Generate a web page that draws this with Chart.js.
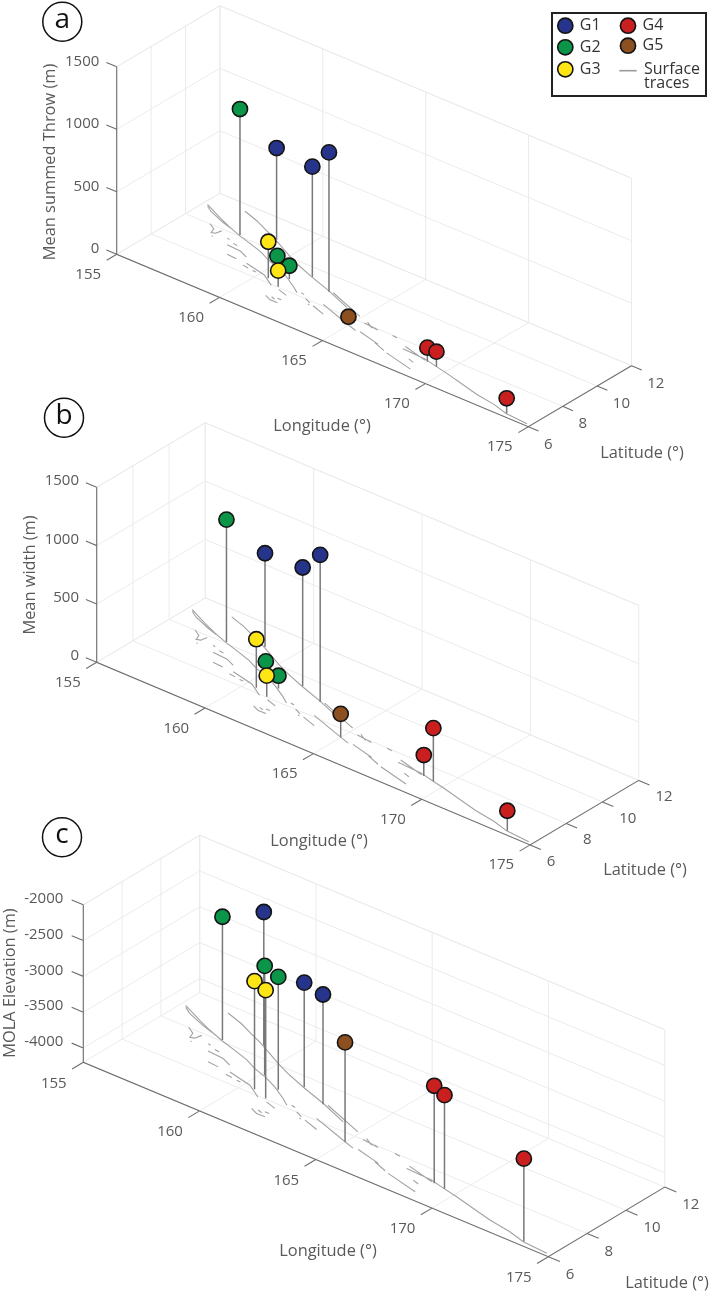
<!DOCTYPE html>
<html>
<head>
<meta charset="utf-8">
<title>Fault groups</title>
<script src="https://cdn.jsdelivr.net/npm/chart.js@4/dist/chart.umd.min.js"></script>
<style>
  html, body { margin: 0; padding: 0; background: #fff; }
  canvas { position: absolute; left: 0; }
</style>
</head>
<body>
<canvas id="panelA"></canvas>
<canvas id="panelB"></canvas>
<canvas id="panelC"></canvas>

<script>
// axis ticks
var lonTicks = [155, 160, 165, 170, 175];
var latTicks = [6, 8, 10, 12];
var throwTicks = [0, 500, 1000, 1500];
var widthTicks = [0, 500, 1000, 1500];
var elevationTicks = [-4000, -3500, -3000, -2500, -2000];

// fault groups
var groupNames = ['G1', 'G2', 'G3', 'G4', 'G5'];
var groupColors = ['#27348b', '#0a9548', '#fde516', '#c9201f', '#8b4f20'];

// one entry per fault
var faultGroup = ['G1', 'G1', 'G1', 'G2', 'G2', 'G2', 'G5', 'G4', 'G4', 'G4', 'G3', 'G3'];
var faultLon = [158.85, 161.64, 162.84, 157.58, 160.14, 161.10, 164.99, 169.00, 169.50, 173.74, 160.47, 161.15];
var faultLat = [10.69, 9.43, 8.96, 10.08, 9.19, 8.74, 7.52, 7.31, 7.24, 6.25, 8.27, 8.03];
var throwValues = [734, 880, 1115, 1008, 82, 106, 66, 112, 120, 120, 293, 128];
var widthValues = [804, 1016, 1262, 1049, 116, 110, 200, 180, 456, 171, 417, 180];
var elevationValues = [-2338, -2741, -2668, -2478, -2673, -2623, -2812, -2840, -2891, -3042, -2692, -2686];

// surface traces, each one a list of [lon, lat]
var surfaceTraces = [
  [[155.18,11.06],[156.17,10.60],[156.85,10.31],[157.62,10.03],[158.33,9.82],[159.02,9.60],[159.61,9.32],[160.27,9.10],[160.89,8.81],[161.59,8.40],[161.97,8.14]],
  [[155.27,10.96],[155.62,10.74],[156.46,10.41],[156.98,10.25]],
  [[156.58,11.57],[157.37,11.31],[157.93,11.06],[158.61,10.77],[159.35,10.40],[159.99,10.07],[160.66,9.77],[161.61,9.41],[162.82,9.00],[164.10,8.49]],
  [[163.01,9.01],[164.90,8.29]],
  [[163.28,8.10],[164.99,7.52],[165.46,7.37]],
  [[156.19,10.01],[156.54,9.80],[156.64,9.53],[156.80,9.59],[156.86,9.88]],
  [[156.81,9.36],[156.87,9.33]],
  [[157.37,9.60],[157.50,9.56]],
  [[157.79,9.44],[158.00,9.41]],
  [[157.68,9.22],[158.38,9.16],[158.83,8.96]],
  [[158.14,8.67],[158.61,8.63]],
  [[159.12,8.62],[160.19,8.37],[160.89,7.94]],
  [[159.11,8.42],[159.40,8.38]],
  [[159.64,8.34],[159.81,8.34]],
  [[161.21,7.23],[161.55,7.08],[161.90,7.09]],
  [[161.45,7.29],[161.65,7.22]],
  [[161.69,7.34],[161.87,7.35]],
  [[161.31,7.88],[161.80,7.72]],
  [[162.09,8.24],[162.27,8.20]],
  [[162.50,8.01],[162.83,7.86]],
  [[162.82,7.76],[162.91,7.73]],
  [[163.06,7.77],[163.75,7.54]],
  [[165.65,7.41],[166.75,7.13]],
  [[165.35,8.02],[166.07,7.93]],
  [[165.40,8.14],[165.81,7.91]],
  [[165.89,7.98],[166.02,7.94]],
  [[166.59,7.14],[167.23,6.90]],
  [[167.42,6.83],[168.88,6.47]],
  [[166.75,7.98],[166.99,7.95]],
  [[168.34,7.02],[168.63,6.93]],
  [[167.68,7.47],[168.80,7.41],[169.34,7.28],[170.14,7.10],[171.06,6.86],[171.97,6.62],[172.97,6.45],[173.73,6.23],[174.82,6.14]],
  [[167.65,7.65],[168.88,7.33]]
];

var pageWidth = 709;
var textColor = '#58595b';
var fontName = '"Open Sans", sans-serif';

// how each 3d box sits on the page
var panels = [
  {
    canvas: 'panelA', top: 0, height: 470, letter: 'a', letterPos: [62.3, 21.7],
    origin: [116.7, 254.3], lonStep: [20.58, 8.62], latStep: [17.2, -10.17], zStep: 0.125,
    zMin: 0, zMax: 1500, zTicks: throwTicks, values: throwValues,
    zTitle: 'Mean summed Throw (m)', zTitlePos: [50, 162],
    lonTitlePos: [322, 426], latTitlePos: [642, 453],
    zLabelShift: [-17.4, -5.5], lonLabelShift: [-28.5, 20.3], latLabelShift: [15.7, 17.7],
    legend: true
  },
  {
    canvas: 'panelB', top: 390, height: 490, letter: 'b', letterPos: [64, 417.7],
    origin: [96.7, 662.3], lonStep: [21.67, 9.13], latStep: [18.1, -10.75], zStep: 0.11667,
    zMin: 0, zMax: 1500, zTicks: widthTicks, values: widthValues,
    zTitle: 'Mean width (m)', zTitlePos: [30, 575],
    lonTitlePos: [319, 841], latTitlePos: [645, 870.7],
    zLabelShift: [-17.7, -6.3], lonLabelShift: [-28.8, 20.3], latLabelShift: [16.7, 16.7]
  },
  {
    canvas: 'panelC', top: 810, height: 484, letter: 'c', letterPos: [62, 837.3],
    origin: [83.3, 1062.3], lonStep: [23.25, 9.72], latStep: [19.4, -11.6], zStep: 0.0716,
    zMin: -4200, zMax: -2000, zTicks: elevationTicks, values: elevationValues,
    zTitle: 'MOLA Elevation (m)', zTitlePos: [10, 983],
    lonTitlePos: [328, 1251], latTitlePos: [667, 1283],
    zLabelShift: [-20, -6], lonLabelShift: [-29.5, 21], latLabelShift: [17.5, 17.8]
  }
];

function projector(p) {
  return function (lon, lat, z) {
    var a = lon - lonTicks[0];
    var b = lat - latTicks[0];
    return {
      x: p.origin[0] + a * p.lonStep[0] + b * p.latStep[0],
      y: p.origin[1] + a * p.lonStep[1] + b * p.latStep[1] - (z - p.zMin) * p.zStep
    };
  };
}

// list of polylines -> one point list, NaN breaks the line
function joinLines(lines) {
  var out = [];
  lines.forEach(function (line) {
    line.forEach(function (pt) { out.push(pt); });
    out.push({ x: NaN, y: NaN });
  });
  return out;
}

function lineSet(lines, color, width, order) {
  return {
    data: joinLines(lines),
    showLine: true,
    pointRadius: 0,
    borderColor: color,
    borderWidth: width,
    order: order
  };
}

function buildDatasets(p) {
  var at = projector(p);
  var lonEnd = lonTicks[lonTicks.length - 1];
  var latEnd = latTicks[latTicks.length - 1];
  var grid = [], axes = [], stems = [], traces = [];

  lonTicks.forEach(function (lon) {
    grid.push([at(lon, latTicks[0], p.zMin), at(lon, latEnd, p.zMin), at(lon, latEnd, p.zMax)]);
    axes.push([at(lon, latTicks[0], p.zMin), at(lon, latTicks[0] - 0.58, p.zMin)]);
  });
  latTicks.forEach(function (lat) {
    grid.push([at(lonEnd, lat, p.zMin), at(lonTicks[0], lat, p.zMin), at(lonTicks[0], lat, p.zMax)]);
    axes.push([at(lonEnd, lat, p.zMin), at(lonEnd + 0.5, lat, p.zMin)]);
  });
  p.zTicks.concat([p.zMax]).forEach(function (z) {
    grid.push([at(lonTicks[0], latTicks[0], z), at(lonTicks[0], latEnd, z), at(lonEnd, latEnd, z)]);
  });
  p.zTicks.forEach(function (z) {
    axes.push([at(lonTicks[0], latTicks[0], z), at(lonTicks[0] - 0.5, latTicks[0], z)]);
  });
  axes.push([at(lonTicks[0], latTicks[0], p.zMax), at(lonTicks[0], latTicks[0], p.zMin), at(lonEnd, latTicks[0], p.zMin), at(lonEnd, latEnd, p.zMin)]);

  surfaceTraces.forEach(function (tr) {
    traces.push(tr.map(function (q) { return at(q[0], q[1], p.zMin); }));
  });
  faultLon.forEach(function (lon, i) {
    stems.push([at(lon, faultLat[i], p.zMin), at(lon, faultLat[i], p.values[i])]);
  });

  var sets = [
    lineSet(grid, '#ebebeb', 1, 9),
    lineSet(traces, '#a2a2a2', 1.1, 8),
    lineSet(axes, '#6d6e71', 1.1, 7),
    lineSet(stems, '#77787b', 1.5, 6)
  ];

  // yellow last so it sits over the green ones
  ['G1', 'G2', 'G5', 'G4', 'G3'].forEach(function (name, k) {
    var pts = [];
    faultGroup.forEach(function (g, i) {
      if (g === name) pts.push(at(faultLon[i], faultLat[i], p.values[i]));
    });
    sets.push({
      label: name,
      data: pts,
      pointRadius: 7.6,
      pointBorderWidth: 1.6,
      pointBorderColor: '#141414',
      pointBackgroundColor: groupColors[groupNames.indexOf(name)],
      order: 5 - k
    });
  });
  return sets;
}

function drawLegend(ctx, toX, toY) {
  var spots = { G1: [565.3, 25.7], G2: [565.3, 47.3], G3: [565.3, 69.3], G4: [628, 25.7], G5: [628, 45.7] };
  ctx.strokeStyle = '#222';
  ctx.lineWidth = 2;
  ctx.strokeRect(toX(552), toY(13), 154, 83);
  ctx.font = '16px ' + fontName;
  ctx.textAlign = 'left';
  ctx.textBaseline = 'middle';
  groupNames.forEach(function (name, i) {
    var s = spots[name];
    ctx.beginPath();
    ctx.arc(toX(s[0]), toY(s[1]), 7.6, 0, Math.PI * 2);
    ctx.fillStyle = groupColors[i];
    ctx.fill();
    ctx.lineWidth = 1.6;
    ctx.strokeStyle = '#141414';
    ctx.stroke();
    ctx.fillStyle = '#333';
    ctx.fillText(name, toX(s[0] + 14.5), toY(s[1]));
  });
  ctx.beginPath();
  ctx.moveTo(toX(619.3), toY(70.7));
  ctx.lineTo(toX(636.7), toY(70.7));
  ctx.strokeStyle = '#9b9b9b';
  ctx.lineWidth = 1.6;
  ctx.stroke();
  ctx.fillStyle = '#333';
  ctx.fillText('Surface', toX(644), toY(69.5));
  ctx.fillText('traces', toX(644), toY(83.5));
}

var boxLabels = {
  id: 'boxLabels',
  afterDraw: function (chart) {
    var p = chart.options.plugins.boxLabels.panel;
    var at = projector(p);
    var ctx = chart.ctx;
    var toX = function (v) { return chart.scales.x.getPixelForValue(v); };
    var toY = function (v) { return chart.scales.y.getPixelForValue(v); };
    var put = function (text, pos, shift, align) {
      ctx.textAlign = align;
      ctx.fillText(text, toX(pos.x + shift[0]), toY(pos.y + shift[1]));
    };

    ctx.save();
    ctx.font = '15px ' + fontName;
    ctx.fillStyle = textColor;
    ctx.textBaseline = 'middle';
    p.zTicks.forEach(function (z) {
      put(String(z), at(lonTicks[0], latTicks[0], z), p.zLabelShift, 'right');
    });
    lonTicks.forEach(function (lon) {
      put(String(lon), at(lon, latTicks[0], p.zMin), p.lonLabelShift, 'center');
    });
    latTicks.forEach(function (lat) {
      put(String(lat), at(lonTicks[lonTicks.length - 1], lat, p.zMin), p.latLabelShift, 'left');
    });

    ctx.font = '16.4px ' + fontName;
    ctx.textAlign = 'center';
    ctx.fillText('Longitude (°)', toX(p.lonTitlePos[0]), toY(p.lonTitlePos[1]));
    ctx.fillText('Latitude (°)', toX(p.latTitlePos[0]), toY(p.latTitlePos[1]));
    ctx.save();
    ctx.translate(toX(p.zTitlePos[0]), toY(p.zTitlePos[1]));
    ctx.rotate(-Math.PI / 2);
    ctx.fillText(p.zTitle, 0, 0);
    ctx.restore();

    // panel letter in its ring
    ctx.beginPath();
    ctx.arc(toX(p.letterPos[0]), toY(p.letterPos[1]), 19.5, 0, Math.PI * 2);
    ctx.fillStyle = '#fff';
    ctx.fill();
    ctx.strokeStyle = '#111';
    ctx.lineWidth = 1.5;
    ctx.stroke();
    ctx.fillStyle = '#111';
    ctx.font = '28px ' + fontName;
    ctx.fillText(p.letter, toX(p.letterPos[0]), toY(p.letterPos[1]) - 2);

    if (p.legend) drawLegend(ctx, toX, toY);
    ctx.restore();
  }
};

panels.forEach(function (p) {
  var canvas = document.getElementById(p.canvas);
  canvas.width = pageWidth;
  canvas.height = p.height;
  canvas.style.top = p.top + 'px';
  canvas.style.width = pageWidth + 'px';
  canvas.style.height = p.height + 'px';

  new Chart(canvas.getContext('2d'), {
    type: 'scatter',
    data: { datasets: buildDatasets(p) },
    plugins: [boxLabels],
    options: {
      responsive: false,
      animation: false,
      events: [],
      layout: { padding: 0, autoPadding: false },
      scales: {
        x: { type: 'linear', min: 0, max: pageWidth, display: false },
        y: { type: 'linear', reverse: true, min: p.top, max: p.top + p.height, display: false }
      },
      plugins: {
        legend: { display: false },
        tooltip: { enabled: false },
        boxLabels: { panel: p }
      }
    }
  });
});
</script>
</body>
</html>
